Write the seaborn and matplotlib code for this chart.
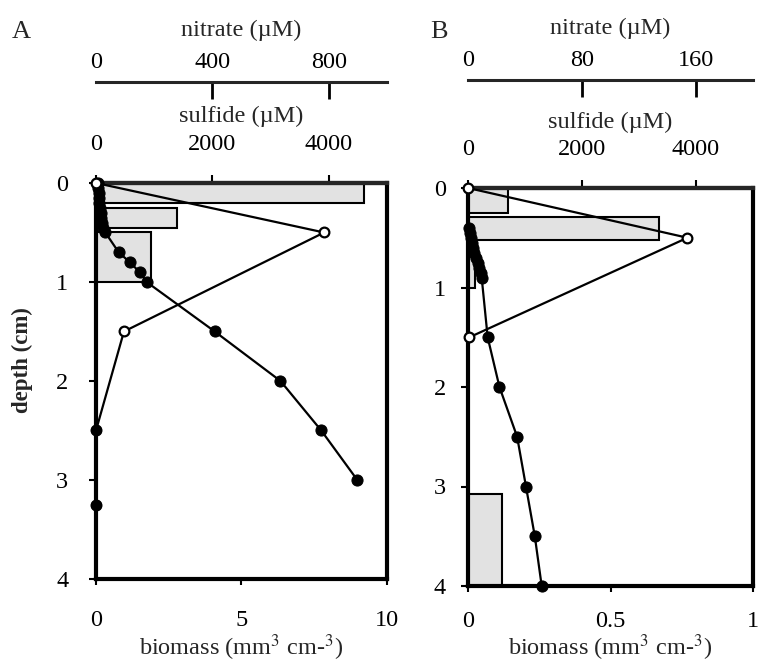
import matplotlib
matplotlib.use("Agg")
import matplotlib.pyplot as plt
import seaborn as sns
import numpy as np
import pandas as pd

# ---------------- data ----------------
# Panel A
A_bar_top = [0.0, 0.25, 0.5]
A_bar_bottom = [0.2, 0.45, 1.0]
A_biomass = [9.2, 2.8, 1.9]

A_nitrate_depth = [0.0, 0.5, 1.5, 2.5, 3.25]
A_nitrate = [0, 784, 96, 0, 0]

A_sulfide_depth = [0, 0.05, 0.1, 0.15, 0.2, 0.25, 0.3, 0.35, 0.4, 0.45, 0.5,
                   0.7, 0.8, 0.9, 1.0, 1.5, 2.0, 2.5, 3.0]
A_sulfide = [30, 40, 50, 55, 60, 70, 80, 90, 100, 120, 160,
             390, 580, 750, 870, 2040, 3170, 3870, 4490]

# Panel B
B_bar_top = [0.0, 0.29, 0.5, 3.08]
B_bar_bottom = [0.25, 0.52, 1.0, 4.0]
B_biomass = [0.14, 0.67, 0.025, 0.12]

B_nitrate_depth = [0.0, 0.5, 1.5]
B_nitrate = [0, 154, 1]

B_sulfide_depth = [0.4, 0.45, 0.5, 0.55, 0.6, 0.65, 0.7, 0.75, 0.8, 0.85, 0.9,
                   1.5, 2.0, 2.5, 3.0, 3.5, 4.0]
B_sulfide = [20, 35, 50, 70, 90, 110, 140, 170, 200, 220, 240,
             345, 552, 862, 1017, 1172, 1293]

depth_ticks = [0, 1, 2, 3, 4]
A_biomass_ticks = [0, 5, 10]
A_biomass_ticklabels = ["0", "5", "10"]
B_biomass_ticks = [0, 0.5, 1]
B_biomass_ticklabels = ["0", "0.5", "1"]
sulfide_ticks = [0, 2000, 4000]
A_nitrate_ticks = [0, 400, 800]
B_nitrate_ticks = [0, 80, 160]

# ---------------- style ----------------
sns.set_style("ticks")
plt.rcParams["font.family"] = ["Liberation Serif", "DejaVu Serif"]
plt.rcParams["mathtext.fontset"] = "stix"
FS = 17.5

fig = plt.figure(figsize=(7.58, 6.65), dpi=100)
W, H = 758, 665


def make_panel(rect, bar_top, bar_bottom, biomass, b_ticks, b_labels, b_max,
               nit_depth, nit, nit_max, nit_ticks, sul_depth, sul, nit_offset,
               ypad, xpad, xlabpad, spad, slabpad, npad, nlabpad):
    ax = fig.add_axes(rect)
    heights = np.array(bar_bottom) - np.array(bar_top)
    ax.barh(bar_top, biomass, height=heights, align="edge", left=0,
            color="#e2e2e2", edgecolor="black", linewidth=1.5, zorder=1)
    ax.set_xlim(0, b_max)
    ax.set_ylim(4, 0)
    ax.set_yticks(depth_ticks)
    ax.set_yticklabels([str(d) for d in depth_ticks])
    ax.set_xticks(b_ticks)
    ax.set_xticklabels(b_labels)
    for s in ax.spines.values():
        s.set_linewidth(3)
        s.set_color("black")
    ax.tick_params(axis="y", direction="out", length=5, width=1.5, pad=ypad,
                   labelsize=FS, left=True, right=False, colors="black")
    ax.tick_params(axis="x", direction="out", length=4, width=1.5, pad=xpad,
                   labelsize=FS, bottom=True, top=False, colors="black")
    ax.set_xlabel(r"biomass (mm$^3$ cm-$^3$)", fontsize=FS, labelpad=xlabpad)
    ax.set_ylabel("")

    # sulfide axis (top spine)
    ax_s = ax.twiny()
    for k in ["left", "right", "bottom"]:
        ax_s.spines[k].set_visible(False)
    ax_s.spines["top"].set_linewidth(3)
    ax_s.set_xlim(0, 5000)
    sdf = pd.DataFrame({"sulfide": sul, "depth": sul_depth})
    sns.lineplot(data=sdf, x="sulfide", y="depth", orient="y", sort=False,
                 estimator=None, ax=ax_s, color="black", lw=1.6, marker="o",
                 markersize=8, markeredgecolor="black", markerfacecolor="black",
                 clip_on=False, zorder=4)
    ax_s.set_xticks(sulfide_ticks)
    ax_s.set_xticklabels([str(t) for t in sulfide_ticks])
    ax_s.tick_params(axis="x", direction="out", length=6, width=1.5, pad=spad,
                     labelsize=FS, top=True, bottom=False, colors="black")
    ax_s.set_xlabel("sulfide (\u00b5M)", fontsize=FS, labelpad=slabpad)
    ax_s.set_ylabel("")

    # nitrate axis (detached top spine)
    ax_n = ax.twiny()
    for k in ["left", "right", "bottom"]:
        ax_n.spines[k].set_visible(False)
    ax_n.spines["top"].set_position(("outward", nit_offset))
    ax_n.spines["top"].set_linewidth(2.2)
    ax_n.set_xlim(0, nit_max)
    ndf = pd.DataFrame({"nitrate": nit, "depth": nit_depth})
    sns.lineplot(data=ndf, x="nitrate", y="depth", orient="y", sort=False,
                 estimator=None, ax=ax_n, color="black", lw=1.6, marker="o",
                 markersize=7, markeredgecolor="black", markerfacecolor="white",
                 markeredgewidth=1.6, clip_on=False, zorder=5)
    ax_n.set_xticks(nit_ticks)
    ax_n.set_xticklabels([str(t) for t in nit_ticks])
    ax_n.tick_params(axis="x", direction="in", length=12, width=2, pad=npad,
                     labelsize=FS, top=True, bottom=False, colors="black")
    ax_n.xaxis.get_major_ticks()[0].tick2line.set_visible(False)
    ax_n.set_xlabel("nitrate (\u00b5M)", fontsize=FS, labelpad=nlabpad)
    ax_n.set_ylabel("")
    ax.set_ylim(4, 0)
    return ax, ax_s, ax_n


axA, axA_s, axA_n = make_panel(
    [96 / W, (H - 579) / H, 291 / W, 396 / H],
    A_bar_top, A_bar_bottom, A_biomass, A_biomass_ticks, A_biomass_ticklabels, 10,
    A_nitrate_depth, A_nitrate, 1000, A_nitrate_ticks,
    A_sulfide_depth, A_sulfide, 73,
    ypad=15, xpad=18, xlabpad=1.5, spad=14, slabpad=9, npad=6, nlabpad=12)

# nitrate points lying on the axis below 2 cm appear filled in the original
zero_mask = [(v == 0 and d > 2) for v, d in zip(A_nitrate, A_nitrate_depth)]
zdf = pd.DataFrame({"nitrate": np.array(A_nitrate)[zero_mask],
                    "depth": np.array(A_nitrate_depth)[zero_mask]})
sns.scatterplot(data=zdf, x="nitrate", y="depth", ax=axA_n, color="black",
                s=55, edgecolor="black", clip_on=False, zorder=6)
axA_n.set_xlabel("nitrate (\u00b5M)", fontsize=FS, labelpad=12)
axA_n.set_ylabel("")

axB, axB_s, axB_n = make_panel(
    [468 / W, (H - 586) / H, 285 / W, 398 / H],
    B_bar_top, B_bar_bottom, B_biomass, B_biomass_ticks, B_biomass_ticklabels, 1,
    B_nitrate_depth, B_nitrate, 200, B_nitrate_ticks,
    B_sulfide_depth, B_sulfide, 78,
    ypad=11, xpad=14, xlabpad=0, spad=14, slabpad=8, npad=6, nlabpad=12)

axA.set_ylim(4, 0)
axB.set_ylim(4, 0)

fig.text(12 / W, 1 - 38 / H, "A", fontsize=19, va="baseline", ha="left")
fig.text(430 / W, 1 - 38 / H, "B", fontsize=19, va="baseline", ha="left")
fig.text(22 / W, 1 - 360 / H, "depth (cm)", fontsize=16.5, fontweight="bold",
         rotation=90, ha="center", va="center")

fig.savefig("out.png", dpi=100)
